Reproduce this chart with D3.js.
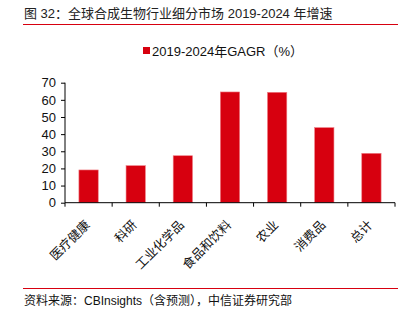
<!DOCTYPE html>
<html><head><meta charset="utf-8">
<script src="https://cdn.jsdelivr.net/npm/d3@7"></script>
<style>
body{margin:0;background:#fff;}
svg{display:block;font-family:"Liberation Sans","Noto Sans CJK SC",sans-serif;}
</style></head><body>
<svg id="c" width="411" height="322"></svg>
<script>
const categories = ["医疗健康","科研","工业化学品","食品和饮料","农业","消费品","总计"];
const values = [19.1, 21.6, 27.4, 64.6, 64.4, 43.8, 28.8];
const yTicks = [0,10,20,30,40,50,60,70];
const seriesName = "2019-2024年GAGR（%）";
const titleText = "图 32：全球合成生物行业细分市场 2019-2024 年增速";
const sourceText = "资料来源：CBInsights（含预测），中信证券研究部";

const svg = d3.select("#c");
const red = "#d7000f";
const cjk = "'Liberation Sans','Noto Sans CJK SC',sans-serif";

svg.append("text").attr("x",24).attr("y",18).attr("font-size",13).attr("fill","#222")
  .style("font-family",cjk).text(titleText);
svg.append("line").attr("x1",23).attr("x2",398).attr("y1",24.5).attr("y2",24.5).attr("stroke",red).attr("stroke-width",1);

const x = d3.scaleBand().domain(categories).range([65,395]).paddingInner(0.59).paddingOuter(0.295);
const y = d3.scaleLinear().domain([0,70]).range([202.7,82.7]);

// legend
svg.append("rect").attr("x",143).attr("y",47).attr("width",7).attr("height",7).attr("fill",red);
svg.append("text").attr("x",152).attr("y",55.5).attr("font-size",13).attr("fill","#111")
  .style("font-family",cjk).text(seriesName);

// bars
svg.selectAll("rect.bar").data(values).enter().append("rect").attr("class","bar")
  .attr("x",(d,i)=>x(categories[i])).attr("width",x.bandwidth())
  .attr("y",d=>y(d)).attr("height",d=>y(0)-y(d))
  .attr("fill",red).attr("stroke","#ef7f87").attr("stroke-width",0.6);

// y axis
const ya = svg.append("g").attr("transform","translate(65,0)")
  .call(d3.axisLeft(y).tickValues(yTicks).tickSize(4).tickPadding(5));
ya.select(".domain").attr("stroke","#000").attr("d","M0,82.7V202.7");
ya.selectAll(".tick line").attr("stroke","#000");
ya.selectAll("text").attr("font-size",13).attr("fill","#111").style("font-family","'Liberation Sans',sans-serif");

// x axis
const xa = svg.append("g").attr("transform","translate(0,202.7)")
  .call(d3.axisBottom(x).tickSize(0).tickPadding(0));
xa.select(".domain").attr("stroke","#000").attr("d","M65,0H395");
const edges = d3.range(categories.length+1).map(i=>65+i*(330/categories.length));
xa.selectAll("line.edge").data(edges).enter().append("line").attr("class","edge")
  .attr("x1",d=>d).attr("x2",d=>d).attr("y1",0).attr("y2",4).attr("stroke","#000");
xa.selectAll(".tick text").attr("font-size",12.5).attr("fill","#111").style("font-family","'Noto Sans CJK SC',sans-serif")
  .attr("text-anchor","end").attr("dy",null).attr("y",0)
  .attr("transform","translate(2,23) rotate(-45)");

svg.append("line").attr("x1",23).attr("x2",398).attr("y1",288.5).attr("y2",288.5).attr("stroke",red).attr("stroke-width",1);
svg.append("text").attr("x",24).attr("y",305).attr("font-size",12).attr("fill","#111")
  .style("font-family",cjk).text(sourceText);
</script>
</body></html>
